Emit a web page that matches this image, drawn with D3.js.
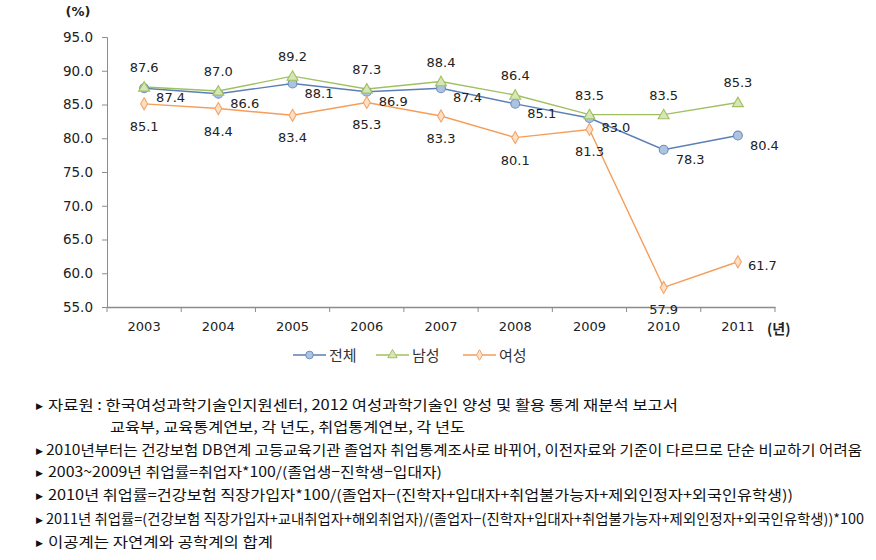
<!DOCTYPE html>
<html>
<head>
<meta charset="utf-8">
<script src="https://cdn.jsdelivr.net/npm/d3@7"></script>
<style>
  html, body { margin: 0; padding: 0; background: #fff; }
  svg { display: block; }
</style>
</head>
<body>
<svg id="chart" width="876" height="560"></svg>
<script>
// ---- data ----
const years = ["2003", "2004", "2005", "2006", "2007", "2008", "2009", "2010", "2011"];
const totalValues  = [87.4, 86.6, 88.1, 86.9, 87.4, 85.1, 83.0, 78.3, 80.4];
const maleValues   = [87.6, 87.0, 89.2, 87.3, 88.4, 86.4, 83.5, 83.5, 85.3];
const femaleValues = [85.1, 84.4, 83.4, 85.3, 83.3, 80.1, 81.3, 57.9, 61.7];
const seriesNames = ["전체", "남성", "여성"];
const yTicks = [55, 60, 65, 70, 75, 80, 85, 90, 95];
const notes = [
  "자료원 : 한국여성과학기술인지원센터, 2012 여성과학기술인 양성 및 활용 통계 재분석 보고서",
  "교육부, 교육통계연보, 각 년도, 취업통계연보, 각 년도",
  "2010년부터는 건강보험 DB연계 고등교육기관 졸업자 취업통계조사로 바뀌어, 이전자료와 기준이 다르므로 단순 비교하기 어려움",
  "2003~2009년 취업률=취업자*100/(졸업생−진학생−입대자)",
  "2010년 취업률=건강보험 직장가입자*100/(졸업자−(진학자+입대자+취업불가능자+제외인정자+외국인유학생))",
  "2011년 취업률=(건강보험 직장가입자+교내취업자+해외취업자)/(졸업자−(진학자+입대자+취업불가능자+제외인정자+외국인유학생))*100",
  "이공계는 자연계와 공학계의 합계"
];

// ---- layout / style ----
const svg = d3.select("#chart");
const L = 107, R = 775, T = 37, B = 307;
const numFont = "'DejaVu Sans', 'Noto Sans CJK KR', sans-serif";
const krFont = "'Noto Sans CJK KR', sans-serif";
const axisColor = "#8c8c8c";

const x = d3.scaleBand().domain(years).range([L, R]).paddingInner(0).paddingOuter(0);
const y = d3.scaleLinear().domain([55, 95]).range([B, T]);
const cx = d => x(d) + x.bandwidth() / 2;

const styles = [
  { name: seriesNames[0], values: totalValues,  line: "#5a7fb5", fill: "#adc3e0", stroke: "#6a8fc0", shape: d3.symbolCircle,   size: 62, label: "right" },
  { name: seriesNames[1], values: maleValues,   line: "#a0c060", fill: "#d6e6b6", stroke: "#a0c060", shape: d3.symbolTriangle, size: 52, label: "above" },
  { name: seriesNames[2], values: femaleValues, line: "#f59d5a", fill: "#fde0c4", stroke: "#f2a468", shape: d3.symbolDiamond,  size: 42, label: "below" }
];

// ---- axes ----
const yAxis = d3.axisLeft(y).tickValues(yTicks).tickFormat(d3.format(".1f")).tickSize(5).tickPadding(9);
const gy = svg.append("g").attr("transform", `translate(${L},0)`).call(yAxis);
gy.select(".domain").attr("stroke", axisColor);
gy.selectAll(".tick line").attr("stroke", axisColor);
gy.selectAll(".tick text").attr("font-family", numFont).attr("font-size", 13.5).attr("fill", "#222");

const xAxis = d3.axisBottom(x).tickSize(0).tickPadding(15);
const gx = svg.append("g").attr("transform", `translate(0,${B})`).call(xAxis);
gx.select(".domain").attr("stroke", axisColor).attr("stroke-width", 1.3);
gx.selectAll(".tick text").attr("font-family", numFont).attr("font-size", 13).attr("fill", "#222");
// tick marks at band boundaries
const bounds = years.map(d => x(d)).concat([x(years[years.length - 1]) + x.bandwidth()]);
svg.append("g").selectAll("line").data(bounds).join("line")
  .attr("x1", d => d).attr("x2", d => d).attr("y1", B).attr("y2", B + 5)
  .attr("stroke", axisColor);

// axis unit labels
svg.append("text").attr("x", 78).attr("y", 16).attr("text-anchor", "middle")
  .attr("font-family", numFont).attr("font-size", 13).attr("font-weight", "bold").attr("fill", "#222").text("(%)");
svg.append("text").attr("x", 767).attr("y", 334)
  .attr("font-family", krFont).attr("font-size", 14).attr("font-weight", "bold").attr("fill", "#222").text("(년)");

// ---- lines & markers ----
const lineGen = d3.line().x((d, i) => cx(years[i])).y(d => y(d));
styles.forEach(s => {
  svg.append("path").datum(s.values).attr("d", lineGen)
    .attr("fill", "none").attr("stroke", s.line).attr("stroke-width", 1.4);
});
styles.forEach(s => {
  const sym = d3.symbol().type(s.shape).size(s.size);
  svg.append("g").selectAll("path").data(s.values).join("path")
    .attr("d", sym)
    .attr("transform", (d, i) => `translate(${cx(years[i])},${y(d) + (s.shape === d3.symbolTriangle ? 1 : 0)})`)
    .attr("fill", s.fill).attr("stroke", s.stroke).attr("stroke-width", 1.1);
});

// ---- data labels ----
styles.forEach(s => {
  svg.append("g").selectAll("text").data(s.values).join("text")
    .attr("font-family", numFont).attr("font-size", 13).attr("fill", "#222")
    .each(function (d, i) {
      const px = cx(years[i]), py = y(d);
      let place = s.label;
      if (s.label === "below" && i === s.values.length - 1) place = "right-mid";
      const t = d3.select(this).text(d3.format(".1f")(d));
      if (place === "right") t.attr("x", px + 12).attr("y", py + 14).attr("text-anchor", "start");
      else if (place === "above") t.attr("x", px).attr("y", py - 15).attr("text-anchor", "middle");
      else if (place === "below") t.attr("x", px).attr("y", py + 27).attr("text-anchor", "middle");
      else t.attr("x", px + 10).attr("y", py + 8).attr("text-anchor", "start");
    });
});

// ---- legend ----
const legendX = [293, 376, 463];
const legendY = 355;
styles.forEach((s, i) => {
  const g = svg.append("g").attr("transform", `translate(${legendX[i]},${legendY})`);
  g.append("line").attr("x1", 0).attr("x2", 33).attr("y1", 0).attr("y2", 0)
    .attr("stroke", s.line).attr("stroke-width", 1.4);
  g.append("path").attr("d", d3.symbol().type(s.shape).size(s.size * 0.75))
    .attr("transform", "translate(16.5,0)")
    .attr("fill", s.fill).attr("stroke", s.stroke).attr("stroke-width", 1);
  g.append("text").attr("x", 36).attr("y", 5.5)
    .attr("font-family", krFont).attr("font-size", 15).attr("fill", "#333").text(s.name);
});

// ---- notes ----
const noteStart = [48, 110, 46, 48, 48, 46, 48];
const noteEnd   = [678, 465, 862, 442, 793, 864, 273];
const noteY     = [405, 427, 450, 472, 495, 519, 542];
const ng = svg.append("g");
notes.forEach((n, i) => {
  if (i !== 1) {
    ng.append("text").attr("x", 36).attr("y", noteY[i] + 4)
      .attr("font-family", numFont).attr("font-size", 9).attr("fill", "#111").text("▶");
  }
  ng.append("text").attr("x", noteStart[i]).attr("y", noteY[i] + 5)
    .attr("font-family", krFont).attr("font-size", 14).attr("fill", "#111")
    .attr("textLength", noteEnd[i] - noteStart[i]).attr("lengthAdjust", "spacingAndGlyphs")
    .text(n);
});
</script>
</body>
</html>
